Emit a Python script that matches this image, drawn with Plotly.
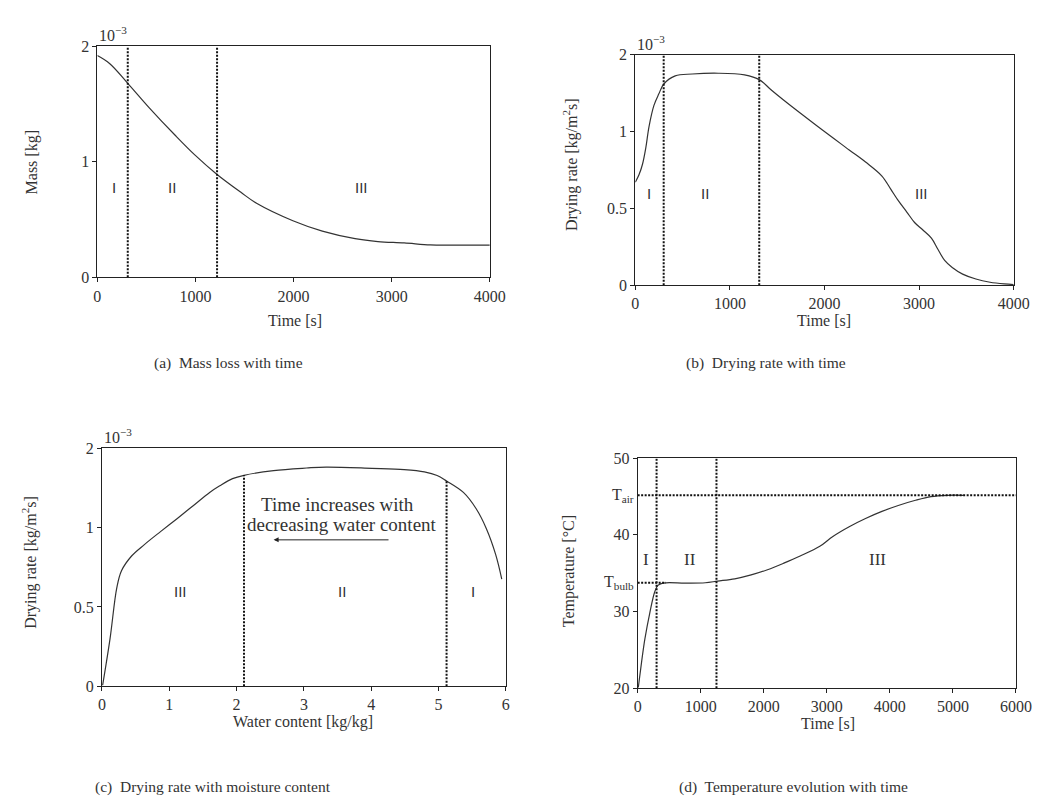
import plotly.graph_objects as go

# ---------------- data ----------------
# (a) mass loss with time  (mass in 1e-3 kg)
mass_time = [0, 127, 310, 527, 793, 993, 1217, 1460, 1627, 1993, 2293, 2627, 2860, 3127, 3393, 3600, 4000]
mass_val = [1.92, 1.85, 1.68, 1.47, 1.23, 1.06, 0.893, 0.738, 0.639, 0.49, 0.40, 0.335, 0.31, 0.298, 0.281, 0.279, 0.279]
mass_bounds = [310, 1220]

# (b) drying rate with time (axis units, tick labels 0, 0.5, 1, 2)
rate_time = [0, 40, 76, 111, 145, 197, 249, 301, 422, 602, 878, 1155, 1314, 1431, 1570, 1915, 2261, 2434,
             2607, 2700, 2780, 2870, 2952, 3040, 3130, 3200, 3270, 3350, 3460, 3600, 3750, 3900, 4000]
rate_val = [0.67, 0.72, 0.787, 0.894, 1.032, 1.170, 1.245, 1.309, 1.362, 1.374, 1.379, 1.368, 1.336,
            1.273, 1.203, 1.039, 0.880, 0.801, 0.710, 0.625, 0.550, 0.476, 0.408, 0.359, 0.306, 0.232,
            0.161, 0.115, 0.072, 0.040, 0.019, 0.008, 0.004]
rate_bounds = [300, 1310]

# (c) drying rate with water content
wc_val = [0.01, 0.12, 0.22, 0.29, 0.44, 0.63, 0.87, 1.12, 1.36, 1.60, 1.75, 1.94, 2.11, 2.55, 3.04, 3.33,
          4.01, 4.49, 4.79, 4.98, 5.12, 5.37, 5.56, 5.71, 5.85, 5.94]
wc_rate = [0.006, 0.30, 0.62, 0.728, 0.821, 0.893, 0.975, 1.058, 1.140, 1.222, 1.264, 1.309, 1.330, 1.36,
           1.376, 1.382, 1.374, 1.366, 1.352, 1.329, 1.294, 1.222, 1.119, 0.995, 0.830, 0.676]
wc_bounds = [2.11, 5.12]
wc_bound_tops = [1.330, 1.294]

# (d) temperature evolution with time
temp_time = [10, 62, 114, 192, 270, 321, 399, 762, 1073, 1265, 1540, 1800, 2059, 2318, 2577, 2889,
             3096, 3355, 3614, 3874, 4133, 4393, 4652, 4911, 5170]
temp_val = [20.08, 23.4, 26.4, 29.8, 32.55, 33.4, 33.7, 33.7, 33.75, 33.96, 34.26, 34.77, 35.45, 36.3,
            37.23, 38.5, 39.79, 41.06, 42.13, 43.06, 43.83, 44.47, 44.98, 45.15, 45.15]
temp_bounds = [300, 1250]
t_air = 45.15
t_bulb = 33.75
t_bulb_end = 450

# ---------------- styling ----------------
CURVE = dict(color="#333333", width=1.2)
DOT = dict(color="#111111", width=2, dash="2px,1.5px")
SERIF = "Liberation Serif"
SANS = "Liberation Sans"
TXT = "#333333"

fig = go.Figure()

def vlines(bounds, ylo, yhi, xa, ya):
    for i, b in enumerate(bounds):
        top = yhi[i] if isinstance(yhi, list) else yhi
        fig.add_trace(go.Scatter(x=[b, b], y=[ylo, top], mode="lines", line=DOT,
                                 xaxis=xa, yaxis=ya, showlegend=False, hoverinfo="skip"))

# (a)
fig.add_trace(go.Scatter(x=mass_time, y=mass_val, mode="lines", line=CURVE, line_shape="spline",
                         xaxis="x", yaxis="y", showlegend=False))
vlines(mass_bounds, 0, 2, "x", "y")
# (b)
fig.add_trace(go.Scatter(x=rate_time, y=rate_val, mode="lines", line=CURVE, line_shape="spline",
                         xaxis="x2", yaxis="y2", showlegend=False))
vlines(rate_bounds, 0, 1.5, "x2", "y2")
# (c)
fig.add_trace(go.Scatter(x=wc_val, y=wc_rate, mode="lines", line=CURVE, line_shape="spline",
                         xaxis="x3", yaxis="y3", showlegend=False))
vlines(wc_bounds, 0, wc_bound_tops, "x3", "y3")
# (d)
fig.add_trace(go.Scatter(x=temp_time, y=temp_val, mode="lines", line=CURVE, line_shape="spline",
                         xaxis="x4", yaxis="y4", showlegend=False))
vlines(temp_bounds, 20, 50, "x4", "y4")
fig.add_trace(go.Scatter(x=[0, 6000], y=[t_air, t_air], mode="lines", line=DOT,
                         xaxis="x4", yaxis="y4", showlegend=False))
fig.add_trace(go.Scatter(x=[0, t_bulb_end], y=[t_bulb, t_bulb], mode="lines", line=DOT,
                         xaxis="x4", yaxis="y4", showlegend=False))

W, H = 1059, 803
def px(x): return x / W
def py(y): return 1 - y / H

axis_common = dict(showline=True, linecolor="#222222", linewidth=1, mirror=True, ticks="outside",
                   ticklen=4, tickcolor="#222222", showgrid=False, zeroline=False,
                   tickfont=dict(family=SERIF, size=16, color=TXT))

fig.update_layout(
    width=W, height=H, margin=dict(l=0, r=0, t=0, b=0),
    paper_bgcolor="white", plot_bgcolor="white", showlegend=False,
    xaxis=dict(domain=[px(87), px(487)], anchor="y", range=[0, 4000],
               tickvals=[0, 1000, 2000, 3000, 4000], **axis_common),
    yaxis=dict(domain=[py(267), py(31)], anchor="x", range=[0, 2], tickvals=[0, 1, 2], **axis_common),
    xaxis2=dict(domain=[px(635.3), px(1021)], anchor="y2", range=[0, 4000],
                tickvals=[0, 1000, 2000, 3000, 4000], **axis_common),
    yaxis2=dict(domain=[py(275), py(39.5)], anchor="x2", range=[0, 1.5], tickvals=[0, 0.5, 1, 1.5],
                ticktext=["0", "0.5", "1", "2"], **axis_common),
    xaxis3=dict(domain=[px(91.7), px(503.3)], anchor="y3", range=[0, 6],
                tickvals=[0, 1, 2, 3, 4, 5, 6], **axis_common),
    yaxis3=dict(domain=[py(684.7), py(441.7)], anchor="x3", range=[0, 1.5], tickvals=[0, 0.5, 1, 1.5],
                ticktext=["0", "0.5", "1", "2"], **axis_common),
    xaxis4=dict(domain=[px(637.7), px(1023.3)], anchor="y4", range=[0, 6000],
                tickvals=[0, 1000, 2000, 3000, 4000, 5000, 6000], **axis_common),
    yaxis4=dict(domain=[py(686.7), py(451.7)], anchor="x4", range=[20, 50],
                tickvals=[20, 30, 40, 50], **axis_common),
)

ann = []
def text(x, y, s, size=16, family=SERIF, xref="paper", yref="paper", xanchor="center",
         yanchor="middle", angle=0):
    ann.append(dict(x=x, y=y, text=s, xref=xref, yref=yref, xanchor=xanchor, yanchor=yanchor,
                    showarrow=False, textangle=angle, font=dict(family=family, size=size, color=TXT)))

# exponent labels
text(px(87), py(31), "10<sup>−3</sup>", xanchor="left", yanchor="bottom")
text(px(635.3), py(39.5), "10<sup>−3</sup>", xanchor="left", yanchor="bottom")
text(px(91.7), py(441.7), "10<sup>−3</sup>", xanchor="left", yanchor="bottom")

# axis titles
text(px(20), py(150), "Mass [kg]", angle=-90)
text(px(288), py(311), "Time [s]")
text(px(570), py(152), "Drying rate [kg/m<sup>2</sup>s]", angle=-90)
text(px(828), py(311), "Time [s]")
text(px(18), py(558), "Drying rate [kg/m<sup>2</sup>s]", angle=-90)
text(px(297), py(721), "Water content [kg/kg]")
text(px(568), py(567), "Temperature [°C]", angle=-90)
text(px(832), py(723), "Time [s]")

# region labels
for x, s in [(170, "I"), (763, "II"), (2690, "III")]:
    text(x, 0.78, s, size=15, family=SANS, xref="x", yref="y")
for x, s in [(145, "I"), (740, "II"), (3028, "III")]:
    text(x, 0.596, s, size=15, family=SANS, xref="x2", yref="y2")
for x, s in [(1.17, "III"), (3.57, "II"), (5.52, "I")]:
    text(x, 0.60, s, size=15, family=SANS, xref="x3", yref="y3")
for x, s in [(140, "I"), (829, "II"), (3797, "III")]:
    text(x, 36.8, s, size=17, family=SERIF, xref="x4", yref="y4")

# temperature labels
text(px(636), t_air, "T<sub>air</sub>", xanchor="right", yref="y4")
text(px(636), t_bulb, "T<sub>bulb</sub>", xanchor="right", yref="y4")

# panel (c) note and arrow
text(px(331.7), py(499), "Time increases with", size=19)
text(px(336), py(520), "decreasing water content", size=19)
ann.append(dict(x=2.55, y=0.923, ax=4.28, ay=0.923, xref="x3", yref="y3", axref="x3", ayref="y3",
                showarrow=True, arrowhead=2, arrowsize=1, arrowwidth=1, arrowcolor="#222222", text=""))

# captions
text(px(221), py(354), "(a)  Mass loss with time", size=15.5)
text(px(769), py(354), "(b)  Drying rate with time", size=15.5)
text(px(205), py(788), "(c)  Drying rate with moisture content", size=15.5)
text(px(797), py(788), "(d)  Temperature evolution with time", size=15.5)

fig.update_layout(annotations=ann)
fig.write_html("out.html")
